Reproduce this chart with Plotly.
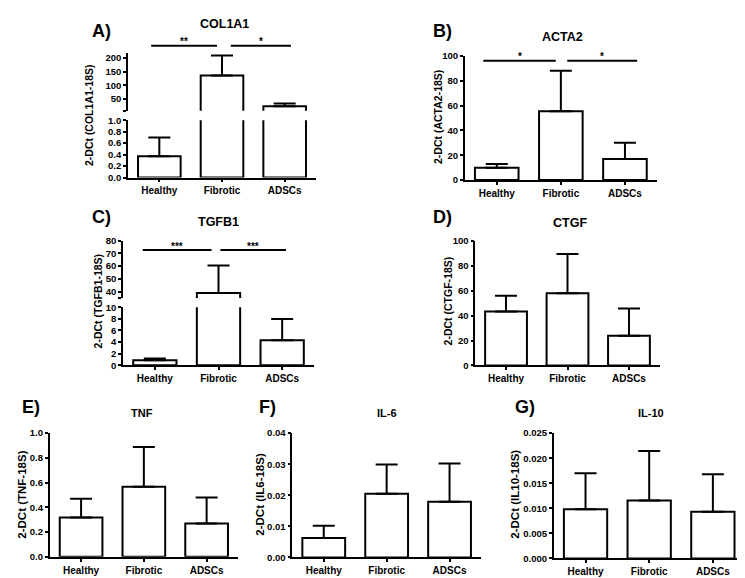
import plotly.graph_objects as go

# ---------------- data ----------------
categories = ["Healthy", "Fibrotic", "ADSCs"]

col1a1_mean = [0.37, 136, 24]
col1a1_err = [0.33, 74, 10]
acta2_mean = [10, 55.5, 17]
acta2_err = [3, 32.5, 13]
tgfb1_mean = [0.85, 39, 4.3]
tgfb1_err = [0.3, 21.5, 3.7]
ctgf_mean = [43.3, 58, 23.9]
ctgf_err = [12.7, 31.5, 21.8]
tnf_mean = [0.317, 0.566, 0.27]
tnf_err = [0.153, 0.323, 0.21]
il6_mean = [0.0063, 0.0205, 0.0179]
il6_err = [0.0039, 0.0094, 0.0123]
il10_mean = [0.0098, 0.01155, 0.0093]
il10_err = [0.0072, 0.0099, 0.0075]

col1a1_ticks_low = [0, 0.2, 0.4, 0.6, 0.8, 1.0]
col1a1_ticks_up = [50, 100, 150, 200]
acta2_ticks = [0, 20, 40, 60, 80, 100]
tgfb1_ticks_low = [0, 2, 4, 6, 8, 10]
tgfb1_ticks_up = [40, 50, 60, 70, 80]
ctgf_ticks = [0, 20, 40, 60, 80, 100]
tnf_ticks = [0, 0.2, 0.4, 0.6, 0.8, 1.0]
il6_ticks = [0, 0.01, 0.02, 0.03, 0.04]
il10_ticks = [0, 0.005, 0.01, 0.015, 0.02, 0.025]

col1a1_sig = [(0, 1, "**"), (1, 2, "*")]
acta2_sig = [(0, 1, "*"), (1, 2, "*")]
tgfb1_sig = [(0, 1, "***"), (1, 2, "***")]

# ---------------- layout helpers ----------------
W, H = 745, 578
FONT = "Liberation Sans, Arial, sans-serif"
NARROW = "Liberation Sans Narrow, Arial Narrow, Liberation Sans, sans-serif"


def fx(p):
    return p / W


def fy(p):
    return 1 - p / H


panels = [
    dict(letter="A)", title="COL1A1", ytitle="2-DCt (COL1A1-18S)",
         mean=col1a1_mean, err=col1a1_err, xdom=(120, 308),
         segs=[(166.7, 108.3, (0, 1.0), col1a1_ticks_low, "{:.1f}", None),
               (98.7, 40, (7, 218), col1a1_ticks_up, "{:.0f}", 7)],
         letter_pos=(82, 17), title_pos=(217, 10), ytitle_pos=(81, 103),
         tsize=12.5, tfont=FONT, ysize=10.5,
         sig=col1a1_sig, sig_y=32.3, sig_ext=[(-0.13, 0.92), (1.14, 2.10)]),
    dict(letter="B)", title="ACTA2", ytitle="2-DCt (ACTA2-18S)",
         mean=acta2_mean, err=acta2_err, xdom=(456.7, 649),
         segs=[(169.3, 42.7, (0, 100), acta2_ticks, "{:.0f}", None)],
         letter_pos=(423, 17), title_pos=(554, 23), ytitle_pos=(430, 105),
         tsize=12.5, tfont=FONT, ysize=10.5,
         sig=acta2_sig, sig_y=47.7, sig_ext=[(-0.21, 0.92), (1.10, 2.19)]),
    dict(letter="C)", title="TGFB1", ytitle="2-DCt (TGFB1-18S)",
         mean=tgfb1_mean, err=tgfb1_err, xdom=(115, 306),
         segs=[(358, 299, (0, 10), tgfb1_ticks_low, "{:.0f}", None),
               (289.5, 231, (35, 80), tgfb1_ticks_up, "{:.0f}", 35)],
         letter_pos=(82, 207), title_pos=(210, 212), ytitle_pos=(90, 293),
         tsize=12.5, tfont=FONT, ysize=10.5,
         sig=tgfb1_sig, sig_y=240.7, sig_ext=[(-0.19, 0.89), (1.03, 2.06)]),
    dict(letter="D)", title="CTGF", ytitle="2-DCt (CTGF-18S)",
         mean=ctgf_mean, err=ctgf_err, xdom=(467.3, 651.7),
         segs=[(358.3, 231.3, (0, 100), ctgf_ticks, "{:.0f}", None)],
         letter_pos=(423, 207), title_pos=(562, 213), ytitle_pos=(440, 293),
         tsize=12.5, tfont=FONT, ysize=10.5, sig=[]),
    dict(letter="E)", title="TNF", ytitle="2-DCt (TNF-18S)",
         mean=tnf_mean, err=tnf_err, xdom=(41.7, 230),
         segs=[(553.3, 427.3, (0, 1.0), tnf_ticks, "{:.1f}", None)],
         letter_pos=(12, 401), title_pos=(134, 407), ytitle_pos=(14, 490),
         tsize=11, tfont=NARROW, ysize=11.5, sig=[]),
    dict(letter="F)", title="IL-6", ytitle="2-DCt (IL6-18S)",
         mean=il6_mean, err=il6_err, xdom=(284.3, 473),
         segs=[(554, 427.3, (0, 0.04), il6_ticks, "{:.2f}", None)],
         letter_pos=(249, 401), title_pos=(379, 407), ytitle_pos=(252, 490),
         tsize=11, tfont=NARROW, ysize=11.5, sig=[]),
    dict(letter="G)", title="IL-10", ytitle="2-DCt (IL10-18S)",
         mean=il10_mean, err=il10_err, xdom=(545.7, 736.7),
         segs=[(555, 427.3, (0, 0.025), il10_ticks, "{:.3f}", None)],
         letter_pos=(505, 401), title_pos=(643, 407), ytitle_pos=(507, 490),
         tsize=11, tfont=NARROW, ysize=11.5, sig=[]),
]

XR = (-0.5, 2.5)
fig = go.Figure()
layout = dict(width=W, height=H, autosize=False, showlegend=False,
              margin=dict(l=0, r=0, t=0, b=0),
              plot_bgcolor="white", paper_bgcolor="white",
              font=dict(family=FONT, color="black"))
annotations = []
shapes = []

ax = 0
for p in panels:
    xd = (fx(p["xdom"][0]), fx(p["xdom"][1]))
    for si, (ybot, ytop, yr, tv, fmt, brk) in enumerate(p["segs"]):
        ax += 1
        xname = "x" if ax == 1 else f"x{ax}"
        yname = "y" if ax == 1 else f"y{ax}"
        xkey = "xaxis" if ax == 1 else f"xaxis{ax}"
        ykey = "yaxis" if ax == 1 else f"yaxis{ax}"
        layout[xkey] = dict(domain=xd, range=list(XR), anchor=yname, visible=(si == 0),
                            showline=True, linecolor="black", linewidth=1.6,
                            ticks="outside", ticklen=3, tickwidth=1.5, tickcolor="black",
                            tickvals=[0, 1, 2], ticktext=categories,
                            tickfont=dict(size=10, weight="bold", family=FONT),
                            showgrid=False, zeroline=False, fixedrange=True)
        tvals = list(tv)
        ttext = [fmt.format(v) for v in tv]
        if brk is not None:
            tvals = [brk] + tvals
            ttext = [""] + ttext
        layout[ykey] = dict(domain=(fy(ybot), fy(ytop)), range=list(yr), anchor=xname,
                            showline=True, linecolor="black", linewidth=1.6,
                            ticks="outside", ticklen=3, tickwidth=1.5, tickcolor="black",
                            tickvals=tvals, ticktext=ttext,
                            tickfont=dict(size=9.5, weight="bold", family=FONT),
                            showgrid=False, zeroline=False, fixedrange=True)
        fig.add_trace(go.Bar(
            x=[0, 1, 2], y=p["mean"], xaxis=xname, yaxis=yname, width=0.68,
            marker=dict(color="white", line=dict(color="black", width=2)),
            error_y=dict(type="data", symmetric=False, array=p["err"],
                         arrayminus=[0, 0, 0], color="black", thickness=2, width=11),
            hoverinfo="skip"))

    # texts
    annotations.append(dict(text=p["letter"], x=fx(p["letter_pos"][0]), y=fy(p["letter_pos"][1]),
                            xref="paper", yref="paper", xanchor="left", yanchor="middle",
                            showarrow=False, font=dict(size=18, weight="bold", family=FONT)))
    annotations.append(dict(text=p["title"], x=fx(p["title_pos"][0]), y=fy(p["title_pos"][1]),
                            xref="paper", yref="paper", xanchor="center", yanchor="middle",
                            showarrow=False, font=dict(size=p["tsize"], weight="bold", family=p["tfont"])))
    annotations.append(dict(text=p["ytitle"], x=fx(p["ytitle_pos"][0]), y=fy(p["ytitle_pos"][1]),
                            xref="paper", yref="paper", xanchor="center", yanchor="middle",
                            textangle=-90, showarrow=False,
                            font=dict(size=p["ysize"], weight="bold", family=FONT)))

    # significance bars
    x0p, x1p = p["xdom"]

    def dx(v, x0p=x0p, x1p=x1p):
        return fx(x0p + (v - XR[0]) / (XR[1] - XR[0]) * (x1p - x0p))

    for (i, j, stars), (a, b) in zip(p["sig"], p.get("sig_ext", [])):
        shapes.append(dict(type="line", xref="paper", yref="paper",
                           x0=dx(a), x1=dx(b), y0=fy(p["sig_y"]), y1=fy(p["sig_y"]),
                           line=dict(color="black", width=2)))
        annotations.append(dict(text=stars, x=dx((a + b) / 2), y=fy(p["sig_y"] - 4),
                                xref="paper", yref="paper", xanchor="center", yanchor="middle",
                                showarrow=False, font=dict(size=10, weight="bold", family=FONT)))

layout["annotations"] = annotations
layout["shapes"] = shapes
fig.update_layout(**layout)
fig.write_html("out.html")
